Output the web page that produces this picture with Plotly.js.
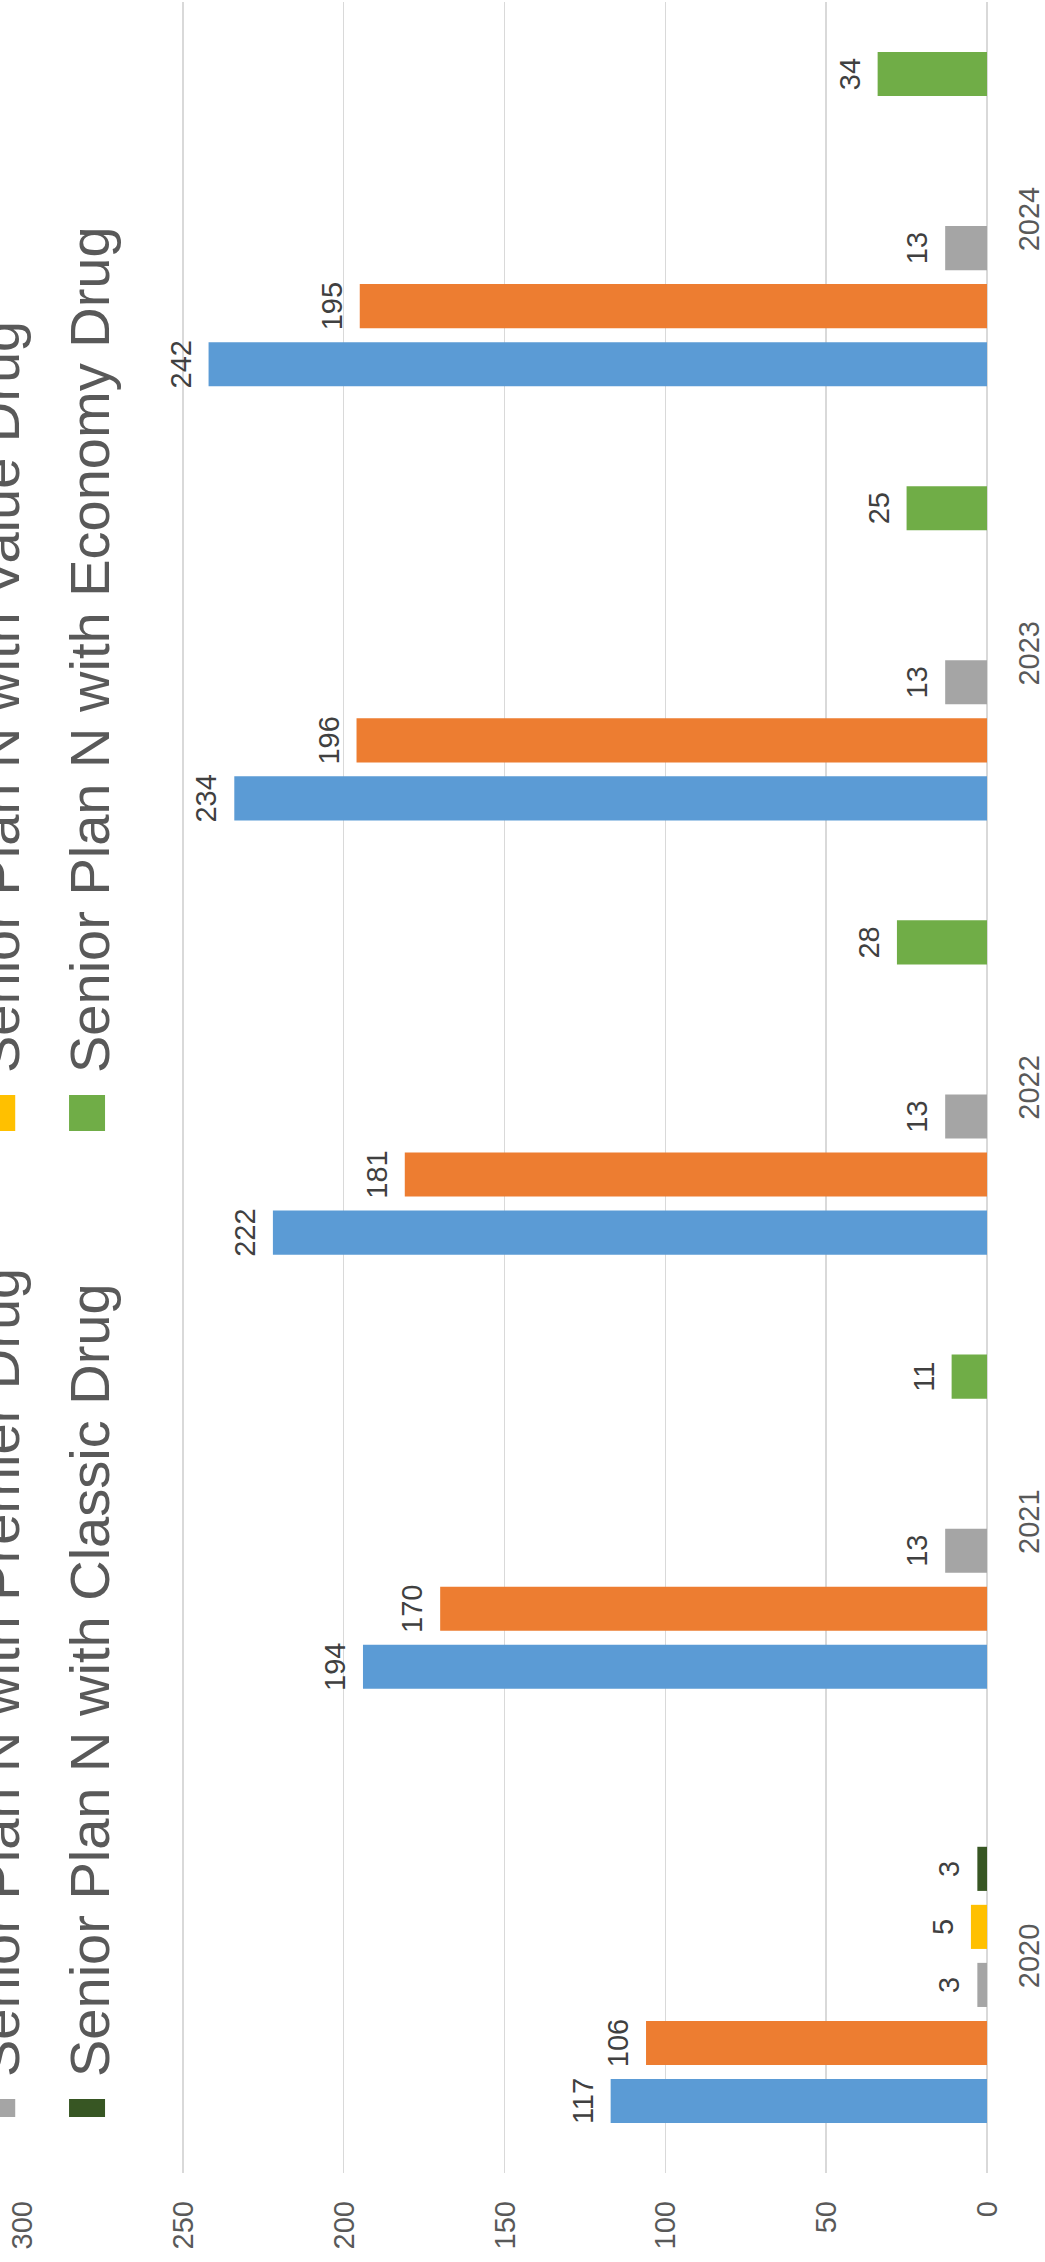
<!DOCTYPE html>
<html>
<head>
<meta charset="utf-8">
<script src="https://cdn.plot.ly/plotly-3.0.1.min.js"></script>
<style>
  html, body { margin: 0; padding: 0; overflow: hidden; background: #ffffff; }
  #chart {
    position: absolute;
    top: 0;
    left: 0;
    width: 2262px;
    height: 1195px;
    transform-origin: 0 0;
    /* column chart turned a quarter turn anticlockwise so the years run upward */
    transform: translate(-150px, 2262px) rotate(-90deg);
  }
</style>
</head>
<body>
<div id="chart"></div>
<script>
// Years on the category axis
const years = ['2020', '2021', '2022', '2023', '2024'];

// Plan names, one per series
const seriesNames = [
  'Senior Plan N',
  'Senior Plan N with Basic Drug',
  'Senior Plan N with Premier Drug',
  'Senior Plan N with Value Drug',
  'Senior Plan N with Classic Drug',
  'Senior Plan N with Economy Drug'
];

// Values per series (null = no entry that year)
const planN        = [117, 194, 222, 234, 242];
const planNBasic   = [106, 170, 181, 196, 195];
const planNPremier = [3, 13, 13, 13, 13];
const planNValue   = [5, null, null, null, null];
const planNClassic = [3, null, null, null, null];
const planNEconomy = [null, 11, 28, 25, 34];

// Value axis ticks
const valueTicks = [0, 50, 100, 150, 200, 250, 300];

const seriesValues = [planN, planNBasic, planNPremier, planNValue, planNClassic, planNEconomy];
const seriesColors = ['#5B9BD5', '#ED7D31', '#A5A5A5', '#FFC000', '#375623', '#70AD47'];

const FONT = 'Liberation Sans, Arial, sans-serif';

const traces = seriesValues.map((vals, i) => ({
  type: 'bar',
  name: seriesNames[i],
  x: years,
  y: vals,
  marker: { color: seriesColors[i] },
  text: vals.map(v => (v === null ? '' : String(v))),
  textposition: 'outside',
  textangle: 0,
  constraintext: 'none',
  cliponaxis: false,
  textfont: { family: FONT, size: 29, color: '#404040' },
  hoverinfo: 'skip'
}));

const layout = {
  width: 2262,
  height: 1195,
  margin: { l: 89, r: 2, t: 172, b: 58, pad: 0, autoexpand: false },
  paper_bgcolor: '#ffffff',
  plot_bgcolor: '#ffffff',
  barmode: 'group',
  bargap: 0.198,
  bargroupgap: 0.24,
  font: { family: FONT, color: '#595959' },
  xaxis: {
    type: 'category',
    categoryarray: years,
    showgrid: false,
    showline: false,
    ticks: '',
    ticklabelstandoff: 22,
    tickfont: { family: FONT, size: 29, color: '#595959' },
    automargin: false,
    fixedrange: true
  },
  yaxis: {
    range: [0, 300],
    tickvals: valueTicks,
    ticktext: valueTicks.map(String),
    showgrid: true,
    gridcolor: '#D9D9D9',
    gridwidth: 1.6,
    zeroline: true,
    zerolinecolor: '#D9D9D9',
    zerolinewidth: 2,
    showline: false,
    ticks: '',
    ticklabelstandoff: 27,
    tickfont: { family: FONT, size: 29, color: '#595959' },
    automargin: false,
    fixedrange: true
  },
  showlegend: true,
  legend: {
    orientation: 'h',
    xref: 'container',
    yref: 'container',
    x: 0.0641,
    xanchor: 'left',
    y: 0.9644,
    yanchor: 'top',
    entrywidth: 959,
    entrywidthmode: 'pixels',
    traceorder: 'normal',
    bgcolor: 'rgba(0,0,0,0)',
    font: { family: FONT, size: 56, color: '#595959' }
  }
};

Plotly.newPlot('chart', traces, layout, { displayModeBar: false, staticPlot: true }).then(() => {
  // enlarge the legend swatches to suit the large legend text
  document.querySelectorAll('#chart .legend .legendpoints path').forEach(p => {
    p.setAttribute('transform', 'scale(3,3)');
  });

  // open up the spacing between legend rows, keeping the last row in place
  const rows = [];
  document.querySelectorAll('#chart .legend .traces').forEach(el => {
    const m = /translate\(\s*([-\d.e]+)[ ,]+([-\d.e]+)\s*\)/.exec(el.getAttribute('transform') || '');
    if (m) rows.push({ el, x: +m[1], y: +m[2] });
  });
  if (rows.length) {
    const lastY = Math.max(...rows.map(r => r.y));
    rows.forEach(r => {
      const ny = lastY - (lastY - r.y) * 1.185;
      r.el.setAttribute('transform', `translate(${r.x},${ny})`);
    });
  }

  // leave a little more room between each bar end and its value label
  document.querySelectorAll('#chart .bartext').forEach(t => {
    const tr = t.getAttribute('transform') || '';
    t.setAttribute('transform', 'translate(0,-9) ' + tr);
  });
});
</script>
</body>
</html>
